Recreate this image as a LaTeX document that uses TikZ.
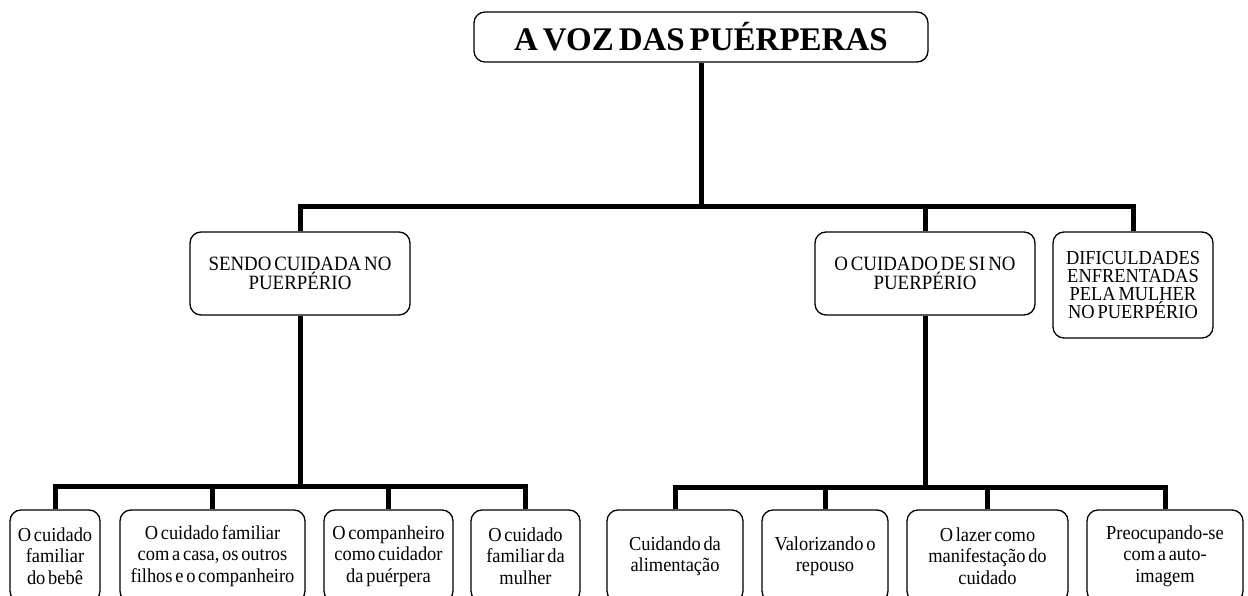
\documentclass[tikz,border=0pt]{standalone}
\usepackage{fontspec}
\setmainfont{Liberation Serif}[WordSpace=0.6]
\newfontfamily\narrowserif{Liberation Serif}[FakeStretch=0.93, WordSpace=0.6]
\begin{document}
\begin{tikzpicture}[x=1pt,y=-1pt,
  box/.style={draw, line width=1.3pt, rounded corners=11pt, fill=white, align=center, inner sep=0pt},
  conn/.style={line width=5pt, line join=miter},
  midtxt/.style={font=\narrowserif\fontsize{20.3}{17}\selectfont},
  diftxt/.style={font=\narrowserif\fontsize{19.8}{18.3}\selectfont},
  bottxt/.style={font=\narrowserif\fontsize{19.8}{21.5}\selectfont}]
\useasboundingbox (0,0) rectangle (1248,596);
\clip (0,0) rectangle (1248,596);
% top
\node[box, minimum width=454pt, minimum height=50pt, font=\fontsize{33}{33}\selectfont\bfseries] (title) at (701,37) {A VOZ DAS PUÉRPERAS};
% middle
\node[box, midtxt, minimum width=220pt, minimum height=83pt] (sendo) at (300,273.5) {SENDO CUIDADA NO\\PUERPÉRIO};
\node[box, midtxt, minimum width=220pt, minimum height=83pt] (cuid) at (925,273.5) {O CUIDADO DE SI NO\\PUERPÉRIO};
\node[box, diftxt, minimum width=160pt, minimum height=106pt] (dif) at (1133,285) {DIFICULDADES\\ENFRENTADAS\\PELA MULHER\\NO PUERPÉRIO};
% bottom left
\node[box, bottxt, minimum width=90pt, minimum height=92pt] (b1) at (55,556) {O cuidado\\familiar\\do bebê};
\node[box, bottxt, minimum width=185pt, minimum height=92pt] (b2) at (212.5,556) {O cuidado familiar\\com a casa, os outros\\filhos e o companheiro};
\node[box, bottxt, minimum width=129pt, minimum height=92pt] (b3) at (388.5,556) {O companheiro\\como cuidador\\da puérpera};
\node[box, bottxt, minimum width=109pt, minimum height=92pt] (b4) at (525.5,556) {O cuidado\\familiar da\\mulher};
% bottom right
\node[box, bottxt, minimum width=136pt, minimum height=92pt] (b5) at (675,556) {Cuidando da\\alimentação};
\node[box, bottxt, minimum width=126pt, minimum height=92pt] (b6) at (825,556) {Valorizando o\\repouso};
\node[box, bottxt, minimum width=161pt, minimum height=92pt] (b7) at (987.5,556) {O lazer como\\manifestação do\\cuidado};
\node[box, bottxt, minimum width=156pt, minimum height=92pt] (b8) at (1165,556) {Preocupando-se\\com a auto-\\imagem};
% junctions
\coordinate (j1) at (701,207);
\coordinate (j2) at (300,486);
\coordinate (j3) at (925,487);
% connectors
\draw[conn] (title.south) -- (j1);
\draw[conn] (sendo.north) |- (j1) -| (dif.north);
\draw[conn] (cuid.north) -- (cuid.north |- j1);
\draw[conn] (sendo.south) -- (j2);
\draw[conn] (b1.north) |- (j2) -| (b4.north);
\draw[conn] (b2.north) -- (b2.north |- j2);
\draw[conn] (b3.north) -- (b3.north |- j2);
\draw[conn] (cuid.south) -- (j3);
\draw[conn] (b5.north) |- (j3) -| (b8.north);
\draw[conn] (b6.north) -- (b6.north |- j3);
\draw[conn] (b7.north) -- (b7.north |- j3);
\end{tikzpicture}
\end{document}
